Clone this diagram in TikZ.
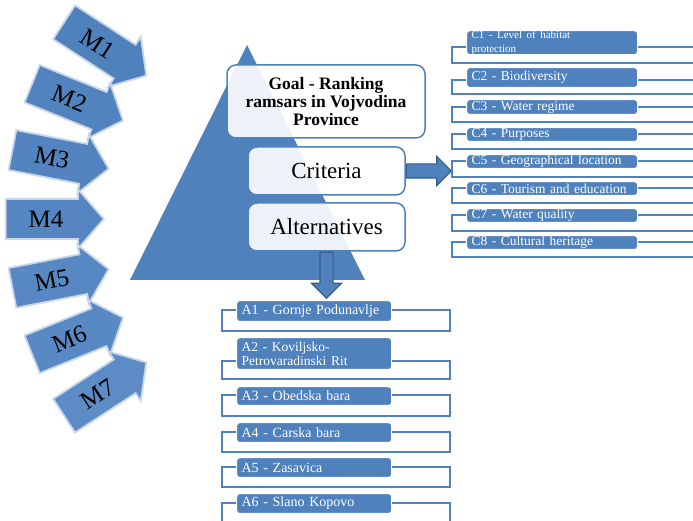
\documentclass[tikz,border=0pt]{standalone}
\usepackage{fontspec}
\setmainfont{Liberation Serif}
\usepackage{tikz}
\usetikzlibrary{shapes.arrows, calc}
\definecolor{ahpblue}{RGB}{79,129,189}
\definecolor{ahpdark}{RGB}{56,93,138}
\definecolor{ahplight}{RGB}{100,146,204}
\definecolor{ahprim}{RGB}{200,214,234}
\newcommand{\critfont}{\fontsize{13.5}{14}\selectfont}

\begin{document}
\begin{tikzpicture}[
  x=1pt, y=1pt,
  level/.style={rounded corners=9pt, draw=ahpblue, line width=1.5pt, fill=white, fill opacity=0.9, text opacity=1, inner sep=0pt},
  item/.style={anchor=north west, rounded corners=3pt, fill=ahpblue, draw=white, line width=1.2pt, text=white, inner xsep=5pt, inner ysep=0pt, align=left},
  bracket/.style={draw=ahpblue, line width=1.8pt, fill=white},
  blockarrow/.style={single arrow, fill=ahpblue, draw=ahpdark, line width=1.2pt, single arrow tip angle=90, inner xsep=0pt},
  method/.style={single arrow, draw=ahprim, line width=1.8pt, minimum height=98pt, single arrow head extend=9.5pt, single arrow tip angle=98, inner xsep=2pt, inner ysep=11pt, font=\fontsize{25}{25}\selectfont}
]
  \useasboundingbox (0,0) rectangle (693,521);
  \clip (0,0) rectangle (693,521);

  % pyramid with the three levels
  \fill[ahpblue] (247,476) -- (130,241) -- (365,241) -- cycle;
  \node[level, minimum width=198pt, minimum height=73pt, align=center, font=\bfseries\fontsize{17.5}{18.3}\selectfont] (goal) at (326,419.5) {Goal - Ranking\\ramsars in Vojvodina\\Province};
  \node[level, minimum width=157pt, minimum height=48pt, font=\fontsize{23}{23}\selectfont] (crit) at (326.5,350) {Criteria};
  \node[level, minimum width=157pt, minimum height=48pt, font=\fontsize{23}{23}\selectfont] (alt) at (326.5,294) {Alternatives};

  \node[blockarrow, minimum height=45pt, inner ysep=6.5pt, single arrow head extend=7.5pt, anchor=tail] (critarrow) at (crit.east) {};
  \node[blockarrow, rotate=-90, minimum height=46pt, inner ysep=6pt, single arrow head extend=8.5pt, anchor=tail] (altarrow) at (alt.south) {};

  % criteria
  \foreach \i/\lab/\yt/\hh/\btop/\bbot in {
    1/{\fontsize{11}{11}\selectfont C1 - Level of habitat\\protection}/491/24/474/458,
    2/{C2 - Biodiversity}/454/20/441/427,
    3/{C3 - Water regime}/422/15/414/399,
    4/{C4 - Purposes}/394/14/387/372,
    5/{C5 - Geographical location}/367/14/360/344,
    6/{C6 - Tourism and education}/340/14/333/318,
    7/{C7 - Water quality}/313/14/306/290,
    8/{C8 - Cultural heritage}/286/14/279/264} {
    \draw[bracket] (452,\btop) rectangle (720,\bbot);
    \node[item, font=\critfont, text width=161pt, minimum height=\hh pt] (c\i) at (466,\yt) {\lab};
  }

  % alternatives
  \foreach \i/\lab/\yt/\hh/\btop/\bbot in {
    1/{A1 - Gornje Podunavlje}/221/21/211/190,
    2/{\fontsize{13.5}{12.5}\selectfont A2 - Koviljsko-\\Petrovaradinski Rit}/184/32/160/142,
    3/{A3 - Obedska bara}/135/19/126/105,
    4/{A4 - Carska bara}/99/20/89/69,
    5/{A5 - Zasavica}/64/20/54/34,
    6/{A6 - Slano Kopovo}/28/20/18/-19} {
    \draw[bracket] (222,\btop) rectangle (450,\bbot);
    \node[item, font=\fontsize{14}{14}\selectfont, text width=145pt, minimum height=\hh pt] (a\i) at (236,\yt) {\lab};
  }

  % methods
  \coordinate (hub) at (367,302);
  \foreach \i in {1,...,7} {
    \pgfmathtruncatemacro{\ang}{(\i-4)*11}
    \pgfmathtruncatemacro{\mix}{100-(\i-1)*10}
    \node[method, fill=ahpblue!\mix!ahplight, rotate=\ang, anchor=tip] (m\i) at ($(hub)+(180+\ang:262)$) {M\i};
  }
\end{tikzpicture}
\end{document}
